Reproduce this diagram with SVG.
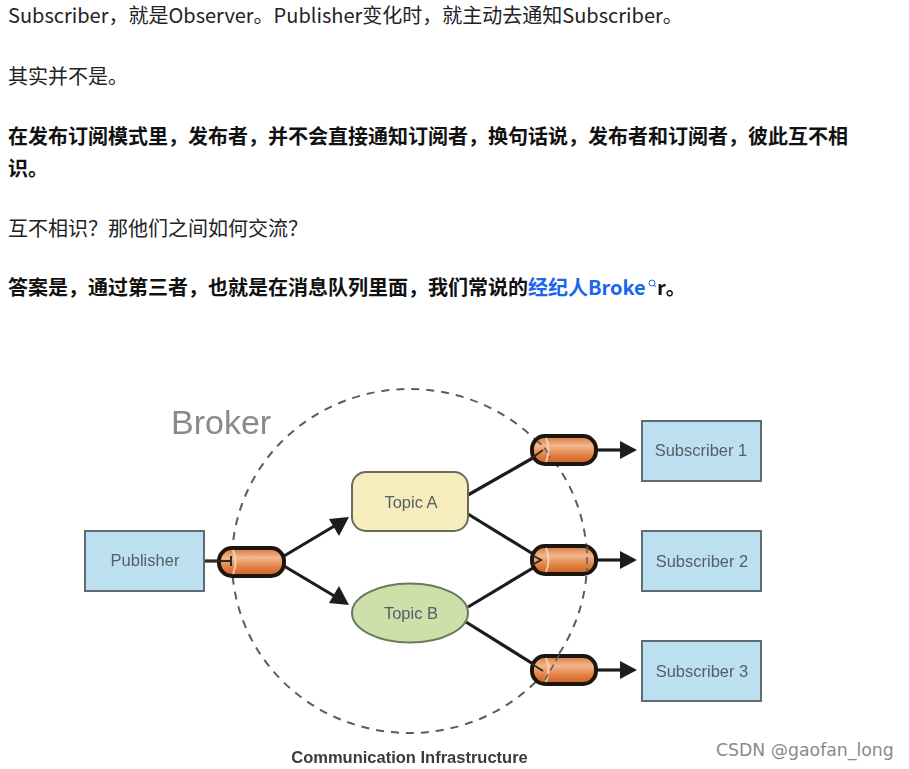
<svg xmlns="http://www.w3.org/2000/svg" width="909" height="769" viewBox="0 0 909 769">
<style>
.t{font-family:"Noto Sans CJK SC","Noto Sans",sans-serif;font-size:20px;fill:#222226}
.b{font-weight:700;fill:#111}
.l{font-family:"Liberation Sans",Arial,sans-serif;font-size:16.500px;fill:#555e66;text-anchor:middle}
.box{fill:#bde0f1;stroke:#5f6b72;stroke-width:2}
.pill{fill:url(#pg);stroke:#1c1410;stroke-width:4}
.lin{fill:none;stroke:#1e1e1e;stroke-width:3.200}
.cap{fill:none;stroke:#f6d9c4;stroke-width:2;opacity:.8}
.ah{fill:#1e1e1e}
.tail{fill:none;stroke:#332a24;stroke-width:2}
</style>
<defs>
<linearGradient id="pg" x1="0" y1="0" x2="0" y2="1">
<stop offset="0" stop-color="#d9773c"/><stop offset=".35" stop-color="#f2b78d"/><stop offset=".7" stop-color="#e07f40"/><stop offset="1" stop-color="#c9622a"/>
</linearGradient>
<filter id="soft" x="-5%" y="-5%" width="110%" height="110%"><feGaussianBlur stdDeviation="0.500"/></filter>
</defs>
<rect width="909" height="769" fill="#fff"/>
<g id="article">
<text class="t" x="8" y="23">Subscriber，就是Observer。Publisher变化时，就主动去通知Subscriber。</text>
<text class="t" x="8" y="84">其实并不是。</text>
<text class="t b" x="8" y="144">在发布订阅模式里，发布者，并不会直接通知订阅者，换句话说，发布者和订阅者，彼此互不相</text>
<text class="t b" x="8" y="176">识。</text>
<text class="t" x="8" y="236">互不相识？那他们之间如何交流？</text>
<text class="t b" x="8" y="295">答案是，通过第三者，也就是在消息队列里面，我们常说的<tspan fill="#1a66ee">经纪人Broke</tspan></text>
<circle cx="652" cy="283" r="3" fill="none" stroke="#1a66ee" stroke-width="1"/>
<line x1="654" y1="285" x2="656" y2="287" stroke="#1a66ee" stroke-width="1"/>
<text class="t b" x="657" y="295">r。</text>
</g>
<g filter="url(#soft)">
<g id="broker-boundary">
<ellipse cx="409.500" cy="561" rx="177.500" ry="172" fill="none" stroke="#5c5c5c" stroke-width="2" stroke-dasharray="8 7"/>
<text x="171" y="434" font-family="Liberation Sans,Arial,sans-serif" font-size="34" fill="#8a8a8a">Broker</text>
</g>
<g id="connectors">
<path class="lin" d="M205 561H222"/>
<path class="lin" d="M284 556L336 525"/>
<path class="ah" d="M349 517L329 519L339 536Z"/>
<path class="lin" d="M284 566L336 597"/>
<path class="ah" d="M349 605L329 603L339 586Z"/>
<path class="lin" d="M468 495L538 455"/>
<path class="lin" d="M468 514L538 557"/>
<path class="lin" d="M468 607L538 565"/>
<path class="lin" d="M466 622L538 667"/>
<path class="lin" d="M597 450H622"/>
<path class="ah" d="M637 450L620 441V459Z"/>
<path class="lin" d="M597 560H622"/>
<path class="ah" d="M637 560L620 551V569Z"/>
<path class="lin" d="M597 670H622"/>
<path class="ah" d="M637 670L620 661V679Z"/>
</g>
<g id="publisher"><rect class="box" x="85" y="531" width="119" height="60"/><text class="l" x="145" y="566">Publisher</text></g>
<g id="topic-a"><rect x="352" y="472" width="116" height="59" rx="14" fill="#f6ecbe" stroke="#6b6b58" stroke-width="2"/><text class="l" x="411" y="508">Topic A</text></g>
<g id="topic-b"><ellipse cx="410" cy="613" rx="58" ry="29.500" fill="#cde0aa" stroke="#6b7a5c" stroke-width="2"/><text class="l" x="411" y="619">Topic B</text></g>
<g id="subscriber-1"><rect class="box" x="642" y="421" width="119" height="60"/><text class="l" x="701" y="456">Subscriber 1</text></g>
<g id="subscriber-2"><rect class="box" x="642" y="531" width="119" height="60"/><text class="l" x="702" y="567">Subscriber 2</text></g>
<g id="subscriber-3"><rect class="box" x="642" y="641" width="119" height="60"/><text class="l" x="702" y="677">Subscriber 3</text></g>
<g id="queue-in"><rect class="pill" x="219" y="548" width="65" height="28" rx="13"/><path class="cap" d="M233 550Q238 562 233 574"/><path class="tail" d="M205 561H231M231 556V566"/></g>
<g id="queue-1"><rect class="pill" x="532" y="436" width="64" height="28" rx="13"/><path class="cap" d="M546 438Q551 450 546 462"/><path class="tail" d="M532 458L543 450"/></g>
<g id="queue-2"><rect class="pill" x="532" y="546" width="64" height="28" rx="13"/><path class="cap" d="M546 548Q551 560 546 572"/><path class="tail" d="M532 555L541 560L532 565"/></g>
<g id="queue-3"><rect class="pill" x="532" y="656" width="64" height="28" rx="13"/><path class="cap" d="M546 658Q551 670 546 682"/><path class="tail" d="M532 664L543 671"/></g>
<g id="overlays">
<path d="M537 441Q545 446 550 458" fill="none" stroke="#5c5c5c" stroke-width="1.500" stroke-dasharray="6 4"/>
<path d="M587 546V572" fill="none" stroke="#5c5c5c" stroke-width="1.500" stroke-dasharray="7 4"/>
<path d="M559 655L545 680" fill="none" stroke="#5c5c5c" stroke-width="1.500" stroke-dasharray="7 4"/>
</g>
<text id="caption" x="409.500" y="763" font-family="Liberation Sans,Arial,sans-serif" font-size="16.500" font-weight="700" fill="#3a3a3a" text-anchor="middle">Communication Infrastructure</text>
</g>
<text id="watermark" x="716" y="756" font-family="DejaVu Sans,sans-serif" font-size="17.300" fill="#8a8a8a">CSDN @gaofan_long</text>
</svg>
